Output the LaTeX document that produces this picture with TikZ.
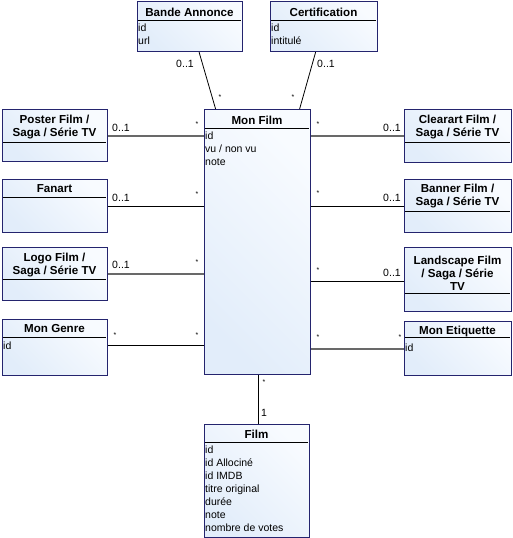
\documentclass[tikz,border=0pt]{standalone}
\usepackage{fontspec}
\setmainfont{Liberation Sans}
\begin{document}
\begin{tikzpicture}[x=1pt,y=-1pt,
  umlbox/.style={draw=boxborder, line width=1.2pt, left color=boxfillA, right color=boxfillB, shading angle=135, inner sep=0pt, anchor=north west},
  ttl/.style={font=\fontsize{11.6}{13}\selectfont\bfseries, inner sep=0pt, align=center, text=black},
  attr/.style={font=\fontsize{10.5}{13}\selectfont, inner sep=0pt, anchor=west, align=left, text=black},
  sep/.style={draw=black, line width=0.8pt},
  lnk/.style={draw=black, line width=0.8pt},
  glnk/.style={draw=linkgray, line width=2pt},
  mult/.style={font=\fontsize{10.5}{12}\selectfont, inner sep=0pt},
  star/.style={font=\fontsize{7}{8}\selectfont, inner sep=0pt}
]
\definecolor{boxborder}{RGB}{36,36,110}
\definecolor{boxfillA}{RGB}{226,237,250}
\definecolor{boxfillB}{RGB}{248,251,255}
\definecolor{linkgray}{RGB}{105,105,105}
\useasboundingbox (0,0) rectangle (512,538);

% ---------- boxes ----------
% Bande Annonce
\node[umlbox, minimum width=105, minimum height=50] (ba) at (137,1) {};
\node[ttl] (bat) at (189.5,12) {Bande Annonce};
\draw[sep] (138,20) -- (241,20);
\node[attr] (baa) at (138,34.5) {id\\url};

% Certification
\node[umlbox, minimum width=107, minimum height=50] (ce) at (270,1) {};
\node[ttl] (cet) at (323.5,12) {Certification};
\draw[sep] (271,20) -- (376,20);
\node[attr] (cea) at (271,34.5) {id\\intitulé};

% Mon Film
\node[umlbox, minimum width=106, minimum height=265] (mf) at (204,109) {};
\node[ttl] (mft) at (257,120) {Mon Film};
\draw[sep] (205,128) -- (309,128);
\node[attr] (mfa) at (205,148.5) {id\\vu / non vu\\note};

% Poster
\node[umlbox, minimum width=105, minimum height=52] (po) at (2,109) {};
\node[ttl] (pot) at (54.5,127) {Poster Film /\\Saga / Série TV};
\draw[sep] (3,142) -- (106,142);

% Fanart
\node[umlbox, minimum width=105, minimum height=53] (fa) at (2,179) {};
\node[ttl] (fat) at (54.5,189) {Fanart};
\draw[sep] (3,197) -- (106,197);

% Logo
\node[umlbox, minimum width=105, minimum height=53] (lo) at (2,247) {};
\node[ttl] (lot) at (54.5,265) {Logo Film /\\Saga / Série TV};
\draw[sep] (3,279) -- (106,279);

% Mon Genre
\node[umlbox, minimum width=105, minimum height=56] (mg) at (2,319) {};
\node[ttl] (mgt) at (54.5,329) {Mon Genre};
\draw[sep] (3,337) -- (106,337);
\node[attr] (mga) at (3,346) {id};

% Clearart
\node[umlbox, minimum width=107, minimum height=53] (cl) at (404,109) {};
\node[ttl] (clt) at (457.5,127) {Clearart Film /\\Saga / Série TV};
\draw[sep] (405,142) -- (510,142);

% Banner
\node[umlbox, minimum width=107, minimum height=53] (bn) at (404,179) {};
\node[ttl] (bnt) at (457.5,196) {Banner Film /\\Saga / Série TV};
\draw[sep] (405,211) -- (510,211);

% Landscape
\node[umlbox, minimum width=107, minimum height=64] (ls) at (404,247) {};
\node[ttl] (lst) at (457.5,273.5) {Landscape Film\\/ Saga / Série\\TV};
\draw[sep] (405,293) -- (510,293);

% Mon Etiquette
\node[umlbox, minimum width=107, minimum height=54] (me) at (404,321) {};
\node[ttl] (met) at (457.5,331) {Mon Etiquette};
\draw[sep] (405,337) -- (510,337);
\node[attr] (mea) at (405,348) {id};

% Film
\node[umlbox, minimum width=105, minimum height=113] (fi) at (204,424) {};
\node[ttl] (fit) at (256.5,434) {Film};
\draw[sep] (205,442) -- (308,442);
\node[attr] (fia) at (205,489) {id\\id Allociné\\id IMDB\\titre original\\durée\\note\\nombre de votes};

% ---------- connector end points ----------
\coordinate (mgc) at ([yshift=2pt]mg.east);
\coordinate (lsc) at ([yshift=-2pt]ls.west);
\coordinate (fic) at ([xshift=1pt]fi.north);

% ---------- connectors ----------
\draw[lnk] ([xshift=9pt]ba.south) -- ([xshift=-42pt]mf.north);
\draw[lnk] ([xshift=-8.5pt]ce.south) -- ([xshift=42pt]mf.north);
\draw[glnk] (po.east) -- (mf.west |- po.east);
\draw[lnk] (fa.east) -- (mf.west |- fa.east);
\draw[glnk] (lo.east) -- (mf.west |- lo.east);
\draw[lnk] (mgc) -- (mf.west |- mgc);
\draw[glnk] (cl.west) -- (mf.east |- cl.west);
\draw[lnk] (bn.west) -- (mf.east |- bn.west);
\draw[lnk] (lsc) -- (mf.east |- lsc);
\draw[glnk] (me.west) -- (mf.east |- me.west);
\draw[lnk] (fic) -- (mf.south -| fic);

% ---------- multiplicities ----------
\node[mult] (m1) at (185,64) {0..1};
\node[star] (s1) at (220,97) {*};
\node[mult] (m2) at (326,64) {0..1};
\node[star] (s2) at (293,97) {*};
\node[mult] (m3) at (121,128) {0..1};
\node[star] (s3) at (197,124) {*};
\node[mult] (m4) at (121,198) {0..1};
\node[star] (s4) at (197,194) {*};
\node[mult] (m5) at (121,265) {0..1};
\node[star] (s5) at (197,262) {*};
\node[star] (s6) at (115,335) {*};
\node[star] (s7) at (197,335) {*};
\node[star] (s8) at (318,124) {*};
\node[mult] (m9) at (392,128) {0..1};
\node[star] (s9) at (318,193) {*};
\node[mult] (m10) at (392,198) {0..1};
\node[star] (s10) at (318,270) {*};
\node[mult] (m11) at (392,273) {0..1};
\node[star] (s12) at (318,337) {*};
\node[star] (s13) at (400,337) {*};
\node[star] (s14) at (264,382) {*};
\node[mult] (m15) at (264,413) {1};
\end{tikzpicture}
\end{document}
